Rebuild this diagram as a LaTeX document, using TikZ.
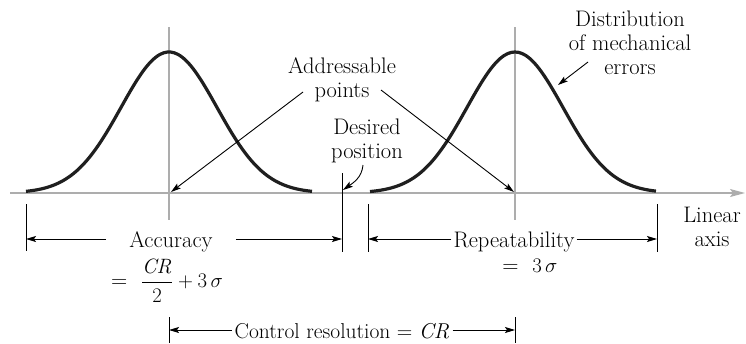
\documentclass[tikz,border=0pt]{standalone}
\usepackage{amsmath}
\usetikzlibrary{arrows.meta,calc}

\begin{document}
\begin{tikzpicture}[
  x=1pt,y=-1pt,
  guide/.style={line width=1.1pt,black!32},
  curve/.style={line width=3.2pt,black!88},
  tick/.style={line width=1pt,black},
  pointer/.style={line width=0.9pt,black,-{Stealth[length=10pt,width=6pt,inset=2pt]}},
  lab/.style={font=\fontsize{22.5}{24}\selectfont,align=center,inner sep=1pt},
  dimlab/.style={lab,text height=16pt,text depth=0pt}
]
\useasboundingbox (0,0) rectangle (746,343);

% ---- Axis and centre lines ----
\coordinate (A0) at (10,193);
\coordinate (A1) at (745,193);
\draw[guide,-{Stealth[length=15pt,width=8pt,inset=3pt]}] (A0) -- (A1);
\coordinate (C1) at (169,193);   % addressable point 1
\coordinate (C2) at (515,193);   % addressable point 2
\draw[guide] ($(C1)+(0,-166)$) -- ($(C1)+(0,27)$);
\draw[guide] ($(C2)+(0,-166)$) -- ($(C2)+(0,27)$);

% ---- Error distributions (+/- 3 sigma) ----
\draw[curve] plot[domain=-143:143,samples=80,smooth]
  ({169+\x},{193-141*exp(-0.5*(\x/48)^2)});
\draw[curve] plot[domain=-145:141,samples=80,smooth]
  ({515+\x},{193-141*exp(-0.5*(\x/48)^2)});

% ---- Ticks ----
\coordinate (D0) at (342,173);   % desired position
\coordinate (D1) at (342,252);
\coordinate (T1) at (26,239);
\coordinate (T2) at (368,239);
\coordinate (T3) at (657,239);
\coordinate (T4) at (169,330);
\coordinate (T5) at (515,330);
\draw[tick] (D0) -- (D1);
\draw[tick] ($(T1)+(0,-35)$) -- ($(T1)+(0,12)$);
\draw[tick] ($(T2)+(0,-35)$) -- ($(T2)+(0,13)$);
\draw[tick] ($(T3)+(0,-35)$) -- ($(T3)+(0,13)$);
\draw[tick] ($(T4)+(0,-13)$) -- ($(T4)+(0,13)$);
\draw[tick] ($(T5)+(0,-13)$) -- ($(T5)+(0,13)$);

% ---- Dimension labels ----
\node[dimlab,inner xsep=23pt] (acc) at (171,239) {Accuracy};
\node[lab] (accf) at (167,281) {=\ \ $\dfrac{\mathit{CR}}{2} + 3\,\sigma$};
\draw[pointer] (acc.west) -- (T1);
\draw[pointer] (acc.east) -- (T2 -| D0);

\node[dimlab,inner xsep=2pt] (rep) at (514,239) {Repeatability};
\node[lab] (repf) at (530,266) {=\ \ $3\,\sigma$};
\draw[pointer] (rep.west) -- (T2);
\draw[pointer] (rep.east) -- (T3);

\node[dimlab,inner xsep=3pt,font=\fontsize{21.5}{24}\selectfont] (res) at (342,330)
  {Control resolution = \textit{CR}};
\draw[pointer] (res.west) -- (T4);
\draw[pointer] (res.east) -- (T5);

% ---- Pointer labels ----
\node[lab] (addr) at (342,80) {Addressable\\points};
\draw[pointer] ($(addr.center)+(-39,12)$) -- ($(C1)+(2,-1)$);
\draw[pointer] ($(addr.center)+(39,10)$) -- ($(C2)+(-1,-1)$);

\node[lab] (desired) at (367,141) {Desired\\position};
\draw[pointer] ($(desired.center)+(-4,24)$) to[out=-95,in=35] ($(D0)+(1,17)$);

\node[lab] (dist) at (630,43) {Distribution\\of mechanical\\errors};
\draw[pointer] ($(dist.center)+(-42,19)$) -- (558,85);

\node[lab] (lin) at (712,227) {Linear\\axis};

\end{tikzpicture}
\end{document}
